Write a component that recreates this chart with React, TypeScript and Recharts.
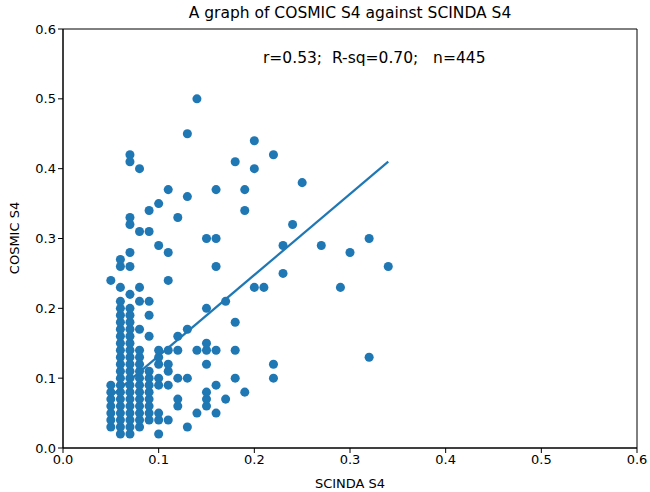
import {
  ReferenceArea,
  Scatter,
  ScatterChart,
  XAxis,
  YAxis,
  ZAxis,
} from "recharts";

// SCINDA S4 (x) and COSMIC S4 (y), paired by index, grouped by column
const scindaS4 = [
  0.05, 0.05, 0.05, 0.05, 0.05, 0.05, 0.05, 0.05,
  0.06, 0.06, 0.06, 0.06, 0.06, 0.06, 0.06, 0.06, 0.06, 0.06, 0.06, 0.06, 0.06, 0.06, 0.06, 0.06, 0.06, 0.06, 0.06, 0.06, 0.06, 0.06, 0.06,
  0.07, 0.07, 0.07, 0.07, 0.07, 0.07, 0.07, 0.07, 0.07, 0.07, 0.07, 0.07, 0.07, 0.07, 0.07, 0.07, 0.07, 0.07, 0.07, 0.07, 0.07, 0.07, 0.07, 0.07, 0.07, 0.07,
  0.08, 0.08, 0.08, 0.08, 0.08, 0.08, 0.08, 0.08, 0.08, 0.08, 0.08, 0.08, 0.08, 0.08, 0.08, 0.08, 0.08,
  0.09, 0.09, 0.09, 0.09, 0.09, 0.09, 0.09, 0.09, 0.09, 0.09, 0.09, 0.09, 0.09,
  0.1, 0.1, 0.1, 0.1, 0.1, 0.1, 0.1, 0.1, 0.1, 0.1,
  0.11, 0.11, 0.11, 0.11, 0.11, 0.11, 0.11, 0.11,
  0.12, 0.12, 0.12, 0.12, 0.12, 0.12,
  0.13, 0.13, 0.13, 0.13, 0.13,
  0.14, 0.14, 0.14,
  0.15, 0.15, 0.15, 0.15, 0.15, 0.15, 0.15, 0.15,
  0.16, 0.16, 0.16, 0.16, 0.16, 0.16,
  0.17, 0.17,
  0.18, 0.18, 0.18, 0.18,
  0.19, 0.19, 0.19,
  0.2, 0.2, 0.2,
  0.21,
  0.22, 0.22, 0.22,
  0.23, 0.23,
  0.24,
  0.25,
  0.27,
  0.29,
  0.3,
  0.32, 0.32,
  0.34,
];

const cosmicS4 = [
  0.03, 0.04, 0.05, 0.06, 0.07, 0.08, 0.09, 0.24,
  0.02, 0.03, 0.04, 0.05, 0.06, 0.07, 0.08, 0.09, 0.1, 0.11, 0.12, 0.13, 0.14, 0.15, 0.16, 0.17, 0.18, 0.19, 0.2, 0.21, 0.23, 0.26, 0.27,
  0.02, 0.03, 0.04, 0.05, 0.06, 0.07, 0.08, 0.09, 0.1, 0.11, 0.12, 0.13, 0.14, 0.15, 0.16, 0.17, 0.18, 0.19, 0.2, 0.22, 0.26, 0.28, 0.32, 0.33, 0.41, 0.42,
  0.03, 0.04, 0.05, 0.06, 0.07, 0.08, 0.09, 0.1, 0.11, 0.12, 0.13, 0.14, 0.17, 0.21, 0.23, 0.31, 0.4,
  0.04, 0.05, 0.06, 0.07, 0.08, 0.09, 0.1, 0.11, 0.16, 0.19, 0.21, 0.31, 0.34,
  0.02, 0.04, 0.05, 0.09, 0.1, 0.12, 0.13, 0.14, 0.29, 0.35,
  0.04, 0.09, 0.11, 0.12, 0.14, 0.24, 0.28, 0.37,
  0.06, 0.07, 0.1, 0.14, 0.16, 0.33,
  0.03, 0.1, 0.17, 0.36, 0.45,
  0.05, 0.14, 0.5,
  0.06, 0.07, 0.08, 0.12, 0.14, 0.15, 0.2, 0.3,
  0.05, 0.09, 0.14, 0.26, 0.3, 0.37,
  0.07, 0.21,
  0.1, 0.14, 0.18, 0.41,
  0.08, 0.34, 0.37,
  0.23, 0.4, 0.44,
  0.23,
  0.1, 0.12, 0.42,
  0.25, 0.29,
  0.32,
  0.38,
  0.29,
  0.23,
  0.28,
  0.13, 0.3,
  0.26,
];

// least-squares fit line end points
const fitX = [0.05, 0.34];
const fitY = [0.074, 0.41];

const ticks = [0, 0.1, 0.2, 0.3, 0.4, 0.5, 0.6];

const BLUE = "#1f77b4";
const FONT = "'DejaVu Sans', sans-serif";

export default function App() {
  const points = scindaS4.map((x, i) => ({ x, y: cosmicS4[i] }));
  const fit = fitX.map((x, i) => ({ x, y: fitY[i] }));

  return (
    <div
      style={{
        position: "absolute",
        left: 0,
        top: 0,
        width: 650,
        height: 492,
        background: "#fff",
        fontFamily: FONT,
      }}
    >
      <ScatterChart
        width={650}
        height={492}
        margin={{ top: 29, right: 13, bottom: 14, left: 0 }}
      >
        <XAxis
          type="number"
          dataKey="x"
          domain={[0, 0.6]}
          ticks={ticks}
          tickFormatter={(v: number) => v.toFixed(1)}
          stroke="#000"
          height={30}
          tick={{ fill: "#000", fontSize: 13, fontFamily: FONT }}
          tickSize={5}
          allowDataOverflow
        />
        <YAxis
          type="number"
          dataKey="y"
          domain={[0, 0.6]}
          ticks={ticks}
          tickFormatter={(v: number) => v.toFixed(1)}
          stroke="#000"
          width={63}
          tick={{ fill: "#000", fontSize: 13, fontFamily: FONT }}
          tickSize={5}
          allowDataOverflow
        />
        <ZAxis range={[55, 55]} />
        <ReferenceArea
          x1={0}
          x2={0.6}
          y1={0}
          y2={0.6}
          fill="none"
          stroke="#000"
          strokeWidth={1}
        />
        <Scatter data={points} fill={BLUE} isAnimationActive={false} />
        <Scatter
          data={fit}
          line={{ stroke: BLUE, strokeWidth: 2.2 }}
          shape={() => <g />}
          isAnimationActive={false}
        />
      </ScatterChart>

      <div
        style={{
          position: "absolute",
          top: 4,
          left: 63,
          width: 574,
          textAlign: "center",
          fontSize: 15.5,
          color: "#000",
        }}
      >
        A graph of COSMIC S4 against SCINDA S4
      </div>
      <div
        style={{
          position: "absolute",
          top: 49,
          left: 263,
          fontSize: 15.5,
          color: "#000",
          whiteSpace: "pre",
        }}
      >
        {"r=0.53;  R-sq=0.70;   n=445"}
      </div>
      <div
        style={{
          position: "absolute",
          top: 476,
          left: 63,
          width: 574,
          textAlign: "center",
          fontSize: 13,
          color: "#000",
        }}
      >
        SCINDA S4
      </div>
      <div
        style={{
          position: "absolute",
          left: 14,
          top: 238,
          transform: "translate(-50%, -50%) rotate(-90deg)",
          fontSize: 13,
          color: "#000",
          whiteSpace: "nowrap",
        }}
      >
        COSMIC S4
      </div>
    </div>
  );
}
